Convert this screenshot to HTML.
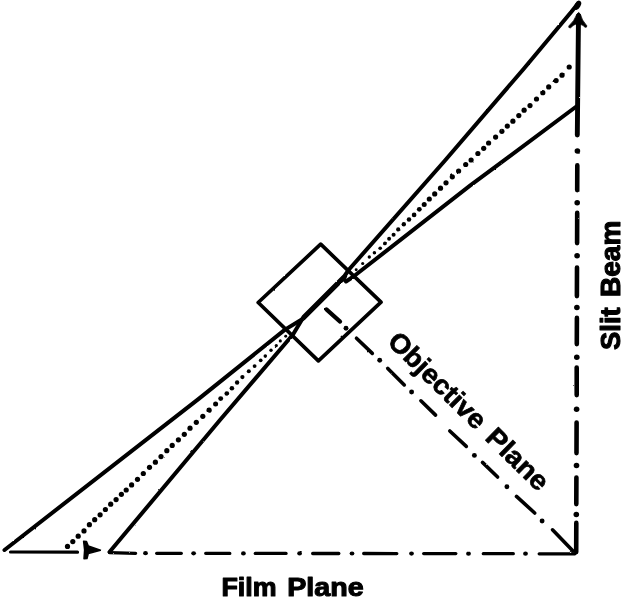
<!DOCTYPE html>
<html><head><meta charset="utf-8">
<style>
html,body{margin:0;padding:0;background:#fff;}
body{width:623px;height:599px;overflow:hidden;}
svg{display:block;will-change:transform;}
text{font-family:"Liberation Sans",sans-serif;font-weight:bold;fill:#000;stroke:#000;stroke-width:1.1;stroke-linejoin:round;}
</style></head><body>
<svg width="623" height="599" viewBox="0 0 623 599">
<defs><filter id="rough" x="0" y="0" width="623" height="599" filterUnits="userSpaceOnUse"><feTurbulence type="fractalNoise" baseFrequency="0.18" numOctaves="2" seed="7" result="n"/><feDisplacementMap in="SourceGraphic" in2="n" scale="1.6" xChannelSelector="R" yChannelSelector="G"/></filter></defs>
<rect width="623" height="599" fill="#fff"/>
<g filter="url(#rough)">
<g fill="none" stroke="#000" stroke-linecap="round" stroke-linejoin="round">
<path d="M320.7 244.2 L381 302.2 L318.4 360.8 L258.2 302.5 Z" stroke-width="3.7"/>
<path d="M577.6 4 L571.4 11.8 L523.8 68.7 L445 160.5 L349 269.5 L344.5 276 L303.5 317 L293 334.5 L220 420 L109.5 552" stroke-width="4.0"/>
<path d="M345 276.5 L303.5 318" stroke-width="4.2"/>
<path d="M577 106 L470 185.7 L353.5 276.5 L346 281.5 L343.6 278.4 L303.8 318.2 L285 329.6 L199 398.6 L4.5 550" stroke-width="4.0"/>
<path d="M578.5 16 L577.3 135" stroke-width="4.9"/>
<path d="M10.5 552 L77.5 552.2" stroke-width="3.2"/>
<path d="M109.5 552.6 L135.6 553.3" stroke-width="3.3"/>
<path d="M577.3 165.4 L577.2 190.1" stroke-width="4.6"/>
<path d="M577.2 212.9 L577.1 243.1" stroke-width="4.6"/>
<path d="M577.0 267.6 L576.9 296.1" stroke-width="4.6"/>
<path d="M576.9 317.9 L576.8 344.1" stroke-width="4.6"/>
<path d="M576.7 367.6 L576.7 395.1" stroke-width="4.6"/>
<path d="M576.6 422.6 L576.5 453.1" stroke-width="4.6"/>
<path d="M576.4 477.6 L576.3 504.1" stroke-width="4.6"/>
<path d="M576.3 522.9 L576.2 552.1" stroke-width="4.6"/>
<path d="M156.7 553.3 L181.3 553.3" stroke-width="3.3"/>
<path d="M205.7 553.3 L229.8 553.4" stroke-width="3.3"/>
<path d="M255.3 553.4 L286.0 553.4" stroke-width="3.3"/>
<path d="M312.7 553.5 L338.8 553.5" stroke-width="3.3"/>
<path d="M363.7 553.5 L396.8 553.6" stroke-width="3.3"/>
<path d="M423.7 553.6 L455.8 553.6" stroke-width="3.3"/>
<path d="M483.3 553.7 L513.3 553.7" stroke-width="3.3"/>
<path d="M539.2 553.8 L574.8 553.8" stroke-width="3.3"/>
<path d="M326.4 309.4 L340.1 321.6" stroke-width="4.1"/>
<path d="M356.5 338.2 L372.3 353.4" stroke-width="3.6"/>
<path d="M387.8 368.4 L404.3 384.9" stroke-width="3.6"/>
<path d="M420.9 400.8 L435.6 415.1" stroke-width="3.6"/>
<path d="M449.8 431.0 L466.3 446.4" stroke-width="3.6"/>
<path d="M482.5 462.4 L497.6 477.0" stroke-width="3.6"/>
<path d="M516.5 496.4 L534.7 513.0" stroke-width="3.6"/>
<path d="M552.5 529.8 L573.0 551.0" stroke-width="3.6"/>
</g>
<g fill="#000">
<ellipse cx="577.4" cy="151" rx="2.8" ry="2.7"/>
<ellipse cx="577.2" cy="202.7" rx="2.8" ry="2.7"/>
<ellipse cx="577.1" cy="255.7" rx="2.8" ry="2.7"/>
<ellipse cx="576.9" cy="307.5" rx="2.8" ry="2.7"/>
<ellipse cx="576.8" cy="357.3" rx="2.8" ry="2.7"/>
<ellipse cx="576.6" cy="409.3" rx="2.8" ry="2.7"/>
<ellipse cx="576.5" cy="465.5" rx="2.8" ry="2.7"/>
<ellipse cx="576.3" cy="514.5" rx="2.8" ry="2.7"/>
<ellipse cx="145.5" cy="553.2" rx="2.4" ry="2.1"/>
<ellipse cx="193.6" cy="553.3" rx="2.4" ry="2.1"/>
<ellipse cx="243.4" cy="553.4" rx="2.4" ry="2.1"/>
<ellipse cx="299.6" cy="553.4" rx="2.4" ry="2.1"/>
<ellipse cx="352" cy="553.5" rx="2.4" ry="2.1"/>
<ellipse cx="411.5" cy="553.6" rx="2.4" ry="2.1"/>
<ellipse cx="468.5" cy="553.7" rx="2.4" ry="2.1"/>
<ellipse cx="525.5" cy="553.7" rx="2.4" ry="2.1"/>
<circle cx="346" cy="328.3" r="2.45"/>
<circle cx="379.7" cy="360.3" r="2.45"/>
<circle cx="411.6" cy="392" r="2.45"/>
<circle cx="474.4" cy="455.4" r="2.45"/>
<circle cx="506.9" cy="486.8" r="2.45"/>
<circle cx="542.1" cy="521" r="2.45"/>
<circle cx="569.2" cy="67" r="2.60"/>
<circle cx="562" cy="75.2" r="2.60"/>
<circle cx="556.1" cy="80.6" r="2.60"/>
<circle cx="548.7" cy="86.9" r="2.60"/>
<circle cx="542.8" cy="92.7" r="2.60"/>
<circle cx="536.5" cy="99" r="2.60"/>
<circle cx="530" cy="105.6" r="2.60"/>
<circle cx="524.1" cy="110.2" r="2.60"/>
<circle cx="518.8" cy="115.6" r="2.60"/>
<circle cx="512.9" cy="121.2" r="2.60"/>
<circle cx="507.3" cy="126.1" r="2.60"/>
<circle cx="501.9" cy="131.3" r="2.60"/>
<circle cx="495.6" cy="137.1" r="2.60"/>
<circle cx="488.6" cy="143" r="2.60"/>
<circle cx="483.7" cy="148.3" r="2.60"/>
<circle cx="477.9" cy="153.5" r="2.60"/>
<circle cx="471.1" cy="160" r="2.60"/>
<circle cx="465.7" cy="164.5" r="2.60"/>
<circle cx="458.6" cy="171" r="2.60"/>
<circle cx="452.3" cy="176.8" r="2.60"/>
<circle cx="446" cy="182.8" r="2.60"/>
<circle cx="440.5" cy="188.2" r="2.60"/>
<circle cx="434.7" cy="193.9" r="2.60"/>
<circle cx="429.3" cy="199" r="2.58"/>
<circle cx="424.2" cy="204.4" r="2.50"/>
<circle cx="419.3" cy="209.3" r="2.42"/>
<circle cx="414.1" cy="214.9" r="2.34"/>
<circle cx="409" cy="219.6" r="2.26"/>
<circle cx="403.8" cy="224.3" r="2.19"/>
<circle cx="398.2" cy="229.4" r="2.11"/>
<circle cx="393.6" cy="234.8" r="2.03"/>
<circle cx="389.1" cy="238.8" r="1.96"/>
<circle cx="384.9" cy="243.4" r="1.90"/>
<circle cx="380.2" cy="248.3" r="1.82"/>
<circle cx="374.4" cy="252.8" r="1.74"/>
<circle cx="369.3" cy="257" r="1.67"/>
<circle cx="362.7" cy="263.5" r="1.57"/>
<circle cx="356.2" cy="269.8" r="1.47"/>
<circle cx="285.7" cy="336.2" r="1.47"/>
<circle cx="280.3" cy="340.9" r="1.55"/>
<circle cx="276.3" cy="345.6" r="1.62"/>
<circle cx="271" cy="350.2" r="1.69"/>
<circle cx="265.3" cy="356.1" r="1.78"/>
<circle cx="260.7" cy="360.3" r="1.85"/>
<circle cx="254.6" cy="366.1" r="1.94"/>
<circle cx="248.8" cy="371.3" r="2.03"/>
<circle cx="242.4" cy="377.1" r="2.12"/>
<circle cx="237.1" cy="382.5" r="2.20"/>
<circle cx="231.9" cy="388.3" r="2.29"/>
<circle cx="226.8" cy="393.5" r="2.37"/>
<circle cx="220.7" cy="398.6" r="2.45"/>
<circle cx="215.6" cy="404" r="2.53"/>
<circle cx="209.1" cy="410.2" r="2.60"/>
<circle cx="202.8" cy="416.3" r="2.60"/>
<circle cx="196.3" cy="422.3" r="2.60"/>
<circle cx="190" cy="428.2" r="2.60"/>
<circle cx="184.3" cy="434.3" r="2.60"/>
<circle cx="178.4" cy="439.8" r="2.60"/>
<circle cx="172.2" cy="445.4" r="2.60"/>
<circle cx="166.8" cy="450.7" r="2.60"/>
<circle cx="161" cy="456.6" r="2.60"/>
<circle cx="155.4" cy="462.2" r="2.60"/>
<circle cx="149.5" cy="467.3" r="2.60"/>
<circle cx="143.3" cy="473.5" r="2.60"/>
<circle cx="137.5" cy="479.3" r="2.60"/>
<circle cx="131.6" cy="484.9" r="2.60"/>
<circle cx="126.2" cy="490" r="2.60"/>
<circle cx="121.4" cy="494.3" r="2.60"/>
<circle cx="116.1" cy="499.6" r="2.60"/>
<circle cx="110.7" cy="504.2" r="2.60"/>
<circle cx="105.4" cy="509.5" r="2.60"/>
<circle cx="100.1" cy="514.8" r="2.60"/>
<circle cx="94.7" cy="519.7" r="2.60"/>
<circle cx="89.4" cy="524.7" r="2.60"/>
<circle cx="84" cy="530.9" r="2.60"/>
<circle cx="78.2" cy="536.2" r="2.60"/>
<circle cx="72.8" cy="541.6" r="2.60"/>
<circle cx="67.5" cy="546.4" r="2.60"/>
</g>
<path d="M577 14 Q578.6 11 580.3 14 Q581.5 20 586.8 25.8 Q587 27.8 585 27.2 Q583 25 581 24.6 L576 24 Q573 25 570.6 27.8 Q568.2 28.2 568.8 26 Q574.5 21 577 14 Z" fill="#000" stroke="#000" stroke-width="0.8" stroke-linejoin="round"/>
<ellipse cx="577.6" cy="5.3" rx="2.9" ry="5" transform="rotate(30 577.6 5.3)" fill="#000"/>
<path d="M83.6 541.2 L86.5 541.6 L88.3 546 L100.5 550.2 L88.3 553.6 L87 558.6 L84 558.8 L84.6 550 Z" fill="#000" stroke="#000" stroke-width="1.5" stroke-linejoin="round"/>
</g>
<text x="221.4" y="595.7" font-size="26" textLength="55.1" lengthAdjust="spacingAndGlyphs">Film</text>
<text x="287.2" y="595.7" font-size="26" textLength="76.4" lengthAdjust="spacingAndGlyphs">Plane</text>
<text transform="translate(619.6 349.9) rotate(-90)" font-size="27.6" textLength="42.5" lengthAdjust="spacingAndGlyphs">Slit</text>
<text transform="translate(619.6 297) rotate(-90)" font-size="27.6" textLength="76.4" lengthAdjust="spacingAndGlyphs">Beam</text>
<text style="stroke-width:0.7" transform="translate(386.2 342.9) rotate(44.5)" font-size="27" textLength="125.5" lengthAdjust="spacingAndGlyphs">Objective</text>
<text style="stroke-width:0.7" transform="translate(484.1 439.1) rotate(44.5)" font-size="27" textLength="76.2" lengthAdjust="spacingAndGlyphs">Plane</text>
</svg>
</body></html>
